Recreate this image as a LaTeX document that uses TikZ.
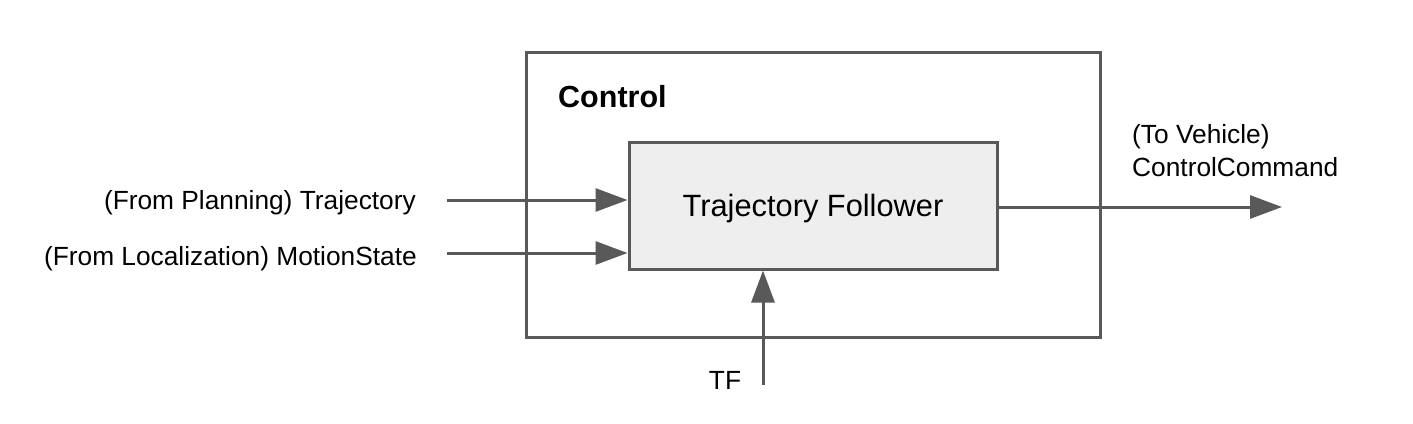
\documentclass[tikz,border=0pt]{standalone}
\usepackage{fontspec}
\setmainfont{Liberation Sans}
\usetikzlibrary{arrows.meta}
\definecolor{linegray}{HTML}{595959}
\definecolor{boxfill}{HTML}{EEEEEE}
\begin{document}
\begin{tikzpicture}[x=1pt,y=-1pt,
  frame/.style={draw=linegray,line width=3pt,inner sep=0pt},
  lbl/.style={inner sep=0pt,font=\fontsize{26.3}{33.5}\selectfont},
  arr/.style={draw=linegray,line width=3pt,-{Triangle[length=32pt,width=23pt]},color=linegray}]
\useasboundingbox (0,0) rectangle (1413,423);
\node[frame,minimum width=574pt,minimum height=285pt] (outer) at (813,194.5) {};
\node[anchor=west,inner sep=0pt,font=\fontsize{30.5}{36}\selectfont\bfseries] (ctl) at (558,97) {Control};
\node[frame,fill=boxfill,minimum width=368pt,minimum height=127pt,font=\fontsize{30.8}{36}\selectfont,text depth=0pt,text height=21pt] (tf) at (813,205.5) {Trajectory Follower};
\node[lbl,anchor=east] (traj) at (416,203) {(From Planning) Trajectory};
\node[lbl,anchor=east] (ms) at (417,259) {(From Localization) MotionState};
\node[lbl,align=left,anchor=north west] (cc) at (1132,124) {(To Vehicle)\\ControlCommand};
\node[lbl] (tfl) at (725,380) {TF};
\coordinate (a1) at (447,200);
\coordinate (a2) at (447,253);
\coordinate (a3) at (1282,207);
\coordinate (a4) at (763,385);
\draw[arr] (a1) -- (a1 -| tf.west);
\draw[arr] (a2) -- (a2 -| tf.west);
\draw[arr] (a3 -| tf.east) -- (a3);
\draw[arr] (a4) -- (a4 |- tf.south);
\end{tikzpicture}
\end{document}
